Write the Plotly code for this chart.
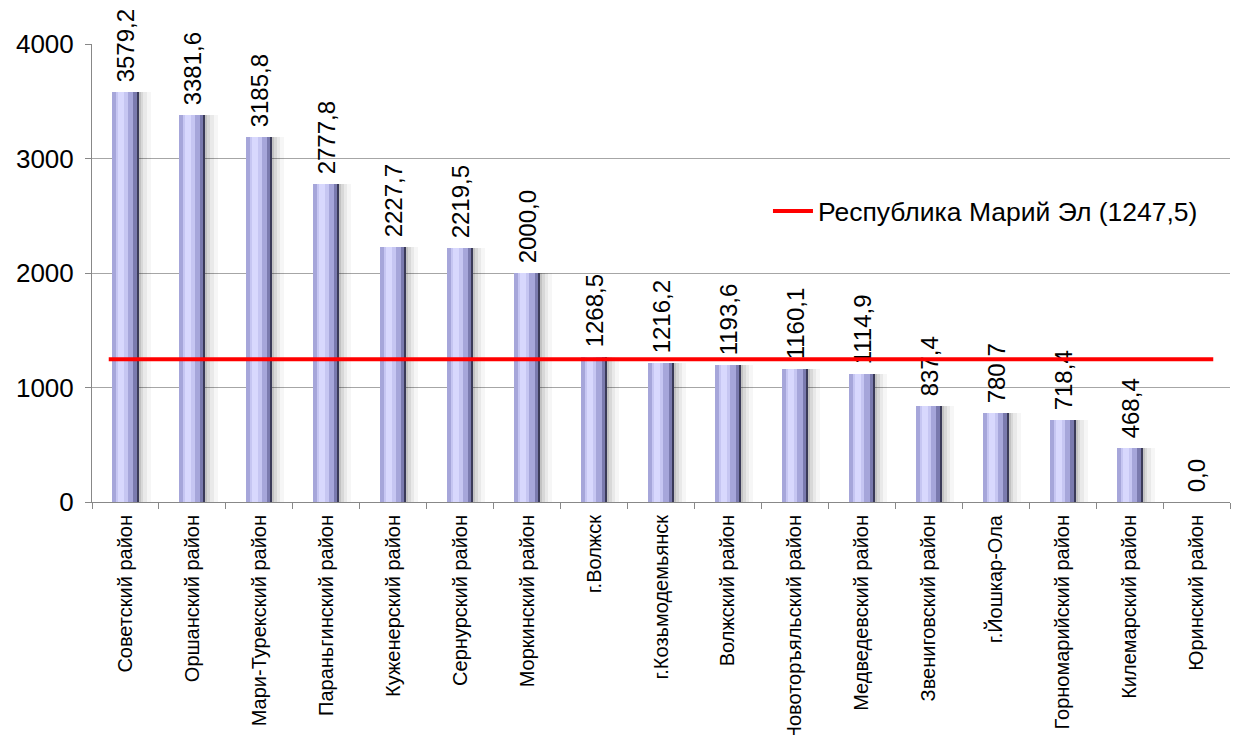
import plotly.graph_objects as go

categories = ["Советский район", "Оршанский район", "Мари-Турекский район", "Параньгинский район",
              "Куженерский район", "Сернурский район", "Моркинский район", "г.Волжск",
              "г.Козьмодемьянск", "Волжский район", "Новоторъяльский район", "Медведевский район",
              "Звениговский район", "г.Йошкар-Ола", "Горномарийский район", "Килемарский район",
              "Юринский район"]
values = [3579.2, 3381.6, 3185.8, 2777.8, 2227.7, 2219.5, 2000.0, 1268.5, 1216.2, 1193.6,
          1160.1, 1114.9, 837.4, 780.7, 718.4, 468.4, 0.0]
republic_value = 1247.5
republic_name = "Республика Марий Эл (1247,5)"

labels = ["\u00a0" + f"{v:.1f}".replace(".", ",") for v in values]
FONT = "Liberation Sans, Arial, sans-serif"
n = len(categories)
BW = 0.39
L = -BW / 2

fig = go.Figure()


def layer(width, offset, color, **kw):
    fig.add_trace(go.Bar(x=categories, y=values, width=width, offset=offset,
                         marker=dict(color=color, line=dict(width=0)),
                         showlegend=False, hoverinfo="skip", **kw))


# soft shadow on the right
layer(0.57, L, "rgba(0,0,0,0.035)")
layer(0.51, L, "rgba(0,0,0,0.05)")
layer(0.46, L, "rgba(0,0,0,0.07)")
layer(0.42, L, "rgba(0,0,0,0.10)")
# main bar (dark edge) carrying the labels
fig.add_trace(go.Bar(x=categories, y=values, width=BW, offset=L,
                     marker=dict(color="#3a3a58", line=dict(width=0)),
                     text=labels, textposition="outside", textangle=-90,
                     constraintext="none",
                     textfont=dict(family=FONT, size=24, color="black"),
                     cliponaxis=False, showlegend=False, hoverinfo="x+y"))
layer(0.36, L, "#7a7aae")
layer(0.31, L, "#a6a6da")
layer(0.17, L + 0.06, "#c6c6f2")
layer(0.09, L + 0.09, "#d8d8fd")

# republic average line
fig.add_trace(go.Scatter(x=[-0.25, n - 0.75], y=[republic_value, republic_value],
                         xaxis="x2", mode="lines", line=dict(color="#ff0000", width=4),
                         name=republic_name))

fig.update_layout(
    width=1234, height=735,
    margin=dict(l=92, r=4, t=44, b=233),
    paper_bgcolor="white", plot_bgcolor="white",
    barmode="overlay", bargap=0,
    font=dict(family=FONT, color="black"),
    showlegend=True,
    legend=dict(x=0.594, y=0.635, xanchor="left", yanchor="middle",
                font=dict(family=FONT, size=26.5, color="black"),
                bgcolor="rgba(0,0,0,0)", itemwidth=40),
    xaxis=dict(type="category", tickson="boundaries", ticks="outside", ticklen=6,
               tickcolor="#888888", showline=True, linecolor="#888888", linewidth=1,
               showgrid=False, tickangle=-90, ticklabelstandoff=4, automargin=False,
               tickfont=dict(family=FONT, size=20, color="black"),
               range=[-0.5, n - 0.5]),
    xaxis2=dict(overlaying="x", range=[-0.5, n - 0.5], visible=False),
    yaxis=dict(range=[0, 4000], tickvals=[0, 1000, 2000, 3000, 4000],
               ticks="outside", ticklen=6, tickcolor="#888888", ticklabelstandoff=6,
               showline=True, linecolor="#888888", linewidth=1, automargin=False,
               showgrid=True, gridcolor="#a6a6a6", gridwidth=1, zeroline=False,
               tickfont=dict(family=FONT, size=26, color="black")),
)

fig.write_html("out.html")
